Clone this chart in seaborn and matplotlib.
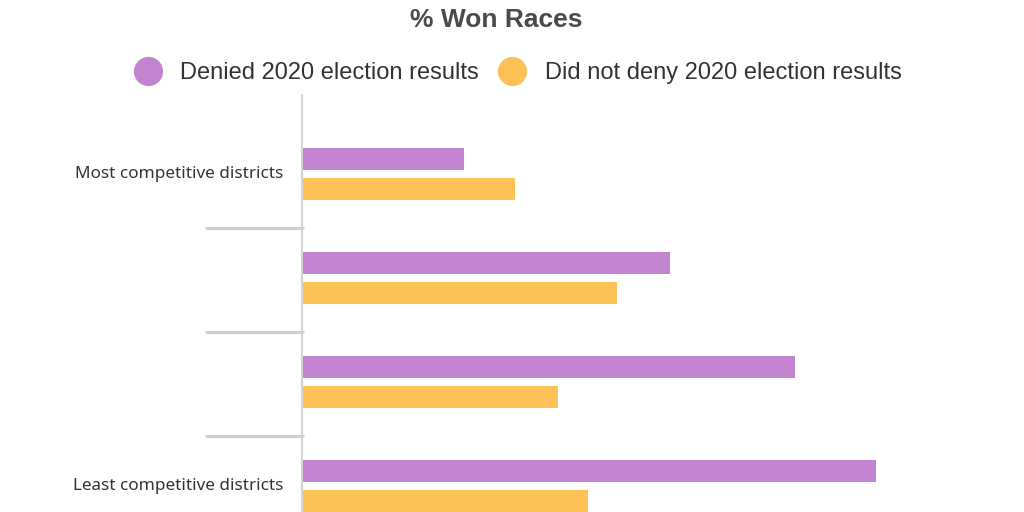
import pandas as pd
import matplotlib.pyplot as plt
import seaborn as sns
from matplotlib.lines import Line2D
import matplotlib.transforms as mtransforms

# Data (% of races won)
groups = ["Most competitive districts", "group 2", "group 3", "Least competitive districts"]
tick_labels = ["Most competitive districts", "", "", "Least competitive districts"]
series = ["Denied 2020 election results", "Did not deny 2020 election results"]
denied = [23.2, 52.7, 70.6, 82.2]
not_denied = [30.5, 45.1, 36.7, 41.0]
colors = ["#C283CF", "#FDC155"]

df = pd.DataFrame({
    "group": groups * 2,
    "series": [series[0]] * 4 + [series[1]] * 4,
    "pct": denied + not_denied,
})

sns.set_theme(style="white")
plt.rcParams["font.family"] = ["Liberation Sans", "DejaVu Sans"]

fig = plt.figure(figsize=(10.24, 5.12), dpi=100)
ax = fig.add_axes([302 / 1024, 0, 698 / 1024, 417 / 512])

sns.barplot(data=df, x="pct", y="group", hue="series", order=groups,
            hue_order=series, palette=colors, orient="h",
            width=0.577, gap=0.267, saturation=1, linewidth=0,
            ax=ax, legend=False)

ax.set_xlim(0, 100)
ax.set_ylim(3.25, -0.76)
ax.set_xlabel("")
ax.set_ylabel("")
ax.set_xticks([])
ax.set_yticks([y - 0.02 for y in range(4)])
ax.set_yticklabels(tick_labels, fontsize=12.3, color="#333333",
                   family=["Noto Sans", "DejaVu Sans"])
ax.tick_params(axis="y", length=0, pad=13.7)

for side in ["top", "right", "bottom"]:
    ax.spines[side].set_visible(False)
ax.spines["left"].set_color("#d4d4d4")
ax.spines["left"].set_linewidth(1.5)

# separators between groups
trans = mtransforms.blended_transform_factory(ax.transAxes, ax.transData)
for y in [0.52, 1.52, 2.52]:
    ax.plot([-0.139, 0.003], [y, y], color="#d0d0d0", lw=2.2,
            transform=trans, clip_on=False, solid_capstyle="butt")

fig.text(0.485, 0.96, "% Won Races", ha="center", va="center",
         fontsize=19, fontweight="bold", color="#4a4a4a",
         family=["Liberation Sans", "DejaVu Sans"])

handles = [Line2D([], [], marker="o", linestyle="", markersize=20,
                  markerfacecolor=c, markeredgecolor=c) for c in colors]
fig.legend(handles, series, loc="center", bbox_to_anchor=(0.501, 0.857),
           ncol=2, frameon=False, handletextpad=0.39, columnspacing=0.4,
           prop={"family": ["Liberation Sans", "DejaVu Sans"], "size": 17},
           labelcolor="#333333")

fig.savefig("out.png", dpi=100)
